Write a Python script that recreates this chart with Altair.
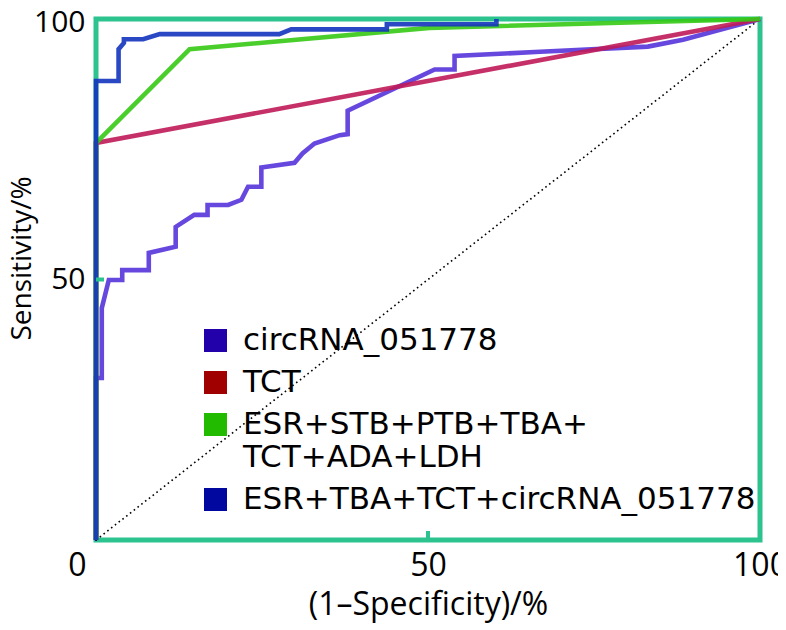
import altair as alt
import pandas as pd

# ---- data ----
series_names = ["circRNA_051778", "TCT", "ESR+STB+PTB+TBA+TCT+ADA+LDH", "ESR+TBA+TCT+circRNA_051778"]
line_colors = ["#5634DA", "#C01A58", "#35C915", "#1434BE"]
legend_colors = ["#2200AA", "#A00000", "#22BB00", "#0008A0"]

circ_x = [0, 0, 0.87, 0.87, 1.93, 3.95, 3.95, 7.95, 7.95, 12.0, 12.0, 14.8, 16.8, 16.8, 19.9,
          21.9, 22.9, 24.9, 24.9, 29.9, 31.1, 32.9, 36.7, 37.9, 37.9, 51.0, 54.0, 54.0, 66.9,
          83.1, 88.4, 100]
circ_y = [0, 31.1, 31.1, 44.5, 49.9, 49.9, 51.8, 51.8, 55.1, 56.3, 60.1, 62.4, 62.4, 64.3, 64.3,
          65.3, 67.8, 67.8, 71.5, 72.4, 74.2, 76.1, 77.7, 77.9, 82.4, 90.3, 90.3, 92.9, 93.7,
          94.7, 96.0, 100]

tct_x = [0, 0, 100]
tct_y = [0, 76.2, 100]

combo7_x = [0, 0, 14.1, 50.2, 100]
combo7_y = [0, 76.2, 94.2, 98.3, 100]

combo4_x = [0, 0, 3.4, 3.4, 4.2, 4.2, 7.1, 9.6, 27.6, 29.4, 43.8, 43.8, 60.3, 60.3]
combo4_y = [0, 88.1, 88.1, 94.2, 95.4, 96.1, 96.1, 97.1, 97.1, 98.0, 98.0, 99.0, 99.0, 100]

diag_x = [0, 100]
diag_y = [0, 100]

x_ticks = [0, 50, 100]
y_ticks = [50, 100]
inner_ticks = [50]

FONT = "Open Sans"
LEG_FONT = "DejaVu Sans"
TEAL = "#2DC38F"

rows = []
for name, xs, ys in zip(series_names,
                        [circ_x, tct_x, combo7_x, combo4_x],
                        [circ_y, tct_y, combo7_y, combo4_y]):
    for i, (xv, yv) in enumerate(zip(xs, ys)):
        rows.append({"series": name, "idx": i, "fpr": xv, "tpr": yv})
df = pd.DataFrame(rows)
legend_df = pd.DataFrame({"key": series_names, "fpr": [0] * 4, "tpr": [0] * 4})

xscale = alt.Scale(domain=[0, 100], nice=False, padding=0)
yscale = alt.Scale(domain=[0, 100], nice=False, padding=0)
line_scale = alt.Scale(domain=series_names, range=line_colors)

xaxis = alt.Axis(values=x_ticks, title="(1–Specificity)/%", ticks=False, domain=False, grid=False,
                 labelFontSize=32, titleFontSize=32, labelPadding=10, titlePadding=8,
                 labelFont=FONT, titleFont=FONT, titleFontWeight="normal", labelColor="black",
                 titleColor="black", labelFlush=False,
                 labelOffset={"condition": {"test": "datum.value == 0", "value": -19}, "value": 0})
yaxis = alt.Axis(values=y_ticks, title="Sensitivity/%", ticks=False, domain=False, grid=False,
                 labelFontSize=30, titleFontSize=28, labelPadding=11,
                 labelFont=FONT, titleFont=FONT, titleFontWeight="normal", labelColor="black",
                 titleColor="black", labelFlush=False,
                 labelOffset={"condition": {"test": "datum.value == 100", "value": 3}, "value": 0},
                 titleX=-74, titleY=239, titleBaseline="middle", titleAlign="center", titleAngle=270)

diag_df = pd.DataFrame({"fpr": diag_x, "tpr": diag_y})
diag = alt.Chart(diag_df).mark_line(color="black", strokeWidth=1.6, strokeDash=[1.6, 3.2]).encode(
    x=alt.X("fpr:Q", scale=xscale, axis=xaxis),
    y=alt.Y("tpr:Q", scale=yscale, axis=yaxis),
)

line_layers = []
for name in series_names:
    line_layers.append(
        alt.Chart(df).transform_filter(alt.datum.series == name).mark_line(
            strokeWidth=4.6, opacity=0.9, strokeJoin="miter", strokeCap="butt"
        ).encode(
            x=alt.X("fpr:Q", scale=xscale),
            y=alt.Y("tpr:Q", scale=yscale),
            stroke=alt.Stroke("series:N", scale=line_scale, legend=None),
            order=alt.Order("idx:Q"),
        )
    )

label_expr = ("datum.label == 'ESR+STB+PTB+TBA+TCT+ADA+LDH' ? "
              "['ESR+STB+PTB+TBA+', 'TCT+ADA+LDH'] : datum.label")
legend_layer = alt.Chart(legend_df).mark_square(size=4, opacity=1).encode(
    x=alt.X("fpr:Q", scale=xscale),
    y=alt.Y("tpr:Q", scale=yscale),
    color=alt.Color("key:N", scale=alt.Scale(domain=series_names, range=legend_colors),
                    legend=alt.Legend(title=None, orient="none", legendX=104, legendY=306,
                                      symbolType="square", symbolSize=530, symbolStrokeWidth=0,
                                      labelFontSize=31, labelFont=LEG_FONT, labelColor="black",
                                      labelOffset=12, rowPadding=10, padding=0,
                                      labelLimit=700, labelExpr=label_expr)),
)

tick_df = pd.DataFrame({"v": inner_ticks})
xtick = alt.Chart(tick_df).mark_rule(color=TEAL, strokeWidth=4).encode(
    x=alt.X("v:Q", scale=xscale), y=alt.value(521), y2=alt.value(512))
ytick = alt.Chart(tick_df).mark_rule(color=TEAL, strokeWidth=4).encode(
    y=alt.Y("v:Q", scale=yscale), x=alt.value(0), x2=alt.value(8))

chart = alt.layer(legend_layer, diag, *line_layers, xtick, ytick).properties(
    width=664, height=521,
    background="white",
    autosize=alt.AutoSizeParams(type="none"),
    padding={"left": 88, "top": 11, "right": 18, "bottom": 86},
).configure_view(stroke=TEAL, strokeWidth=5)

chart.save("out.html", embed_options={"renderer": "svg", "actions": False})
